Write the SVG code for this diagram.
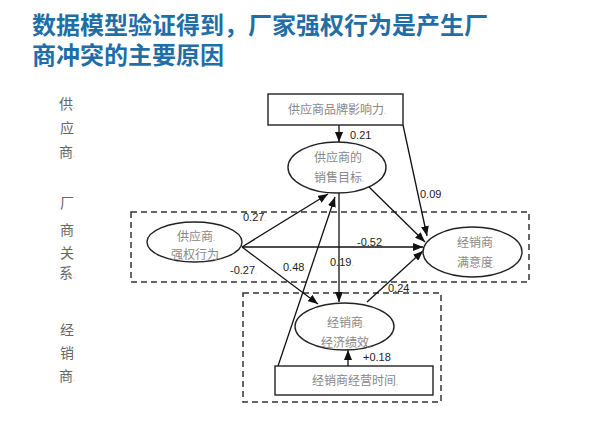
<svg xmlns="http://www.w3.org/2000/svg" width="600" height="429" viewBox="0 0 600 429">
<defs>
<marker id="arr" markerUnits="userSpaceOnUse" markerWidth="10" markerHeight="8" refX="10" refY="4" orient="auto">
<path d="M0,0 L10,4 L0,8 z" fill="#111"/>
</marker>
<style>
.title{font-family:"Noto Sans CJK SC","Noto Sans",sans-serif;font-size:24px;font-weight:bold;fill:#1f6ea8}
.side{font-family:"Noto Sans CJK SC",sans-serif;font-size:14px;fill:#666;text-anchor:middle}
.nt{font-family:"Noto Sans CJK SC",sans-serif;font-size:12px;fill:#888;text-anchor:middle}
.num{font-family:"Liberation Sans",Arial,sans-serif;font-size:11px;fill:#222}
.pm{font-size:7px;fill:#aaa}
.shape{fill:#fff;stroke:#222;stroke-width:1.4}
.dash{fill:none;stroke:#333;stroke-width:1.5;stroke-dasharray:6,4}
.ln{stroke:#111;stroke-width:1.3;fill:none;marker-end:url(#arr)}
</style>
</defs>
<rect width="600" height="429" fill="#fff"/>
<g id="title">
<text class="title"><tspan x="32" y="34">数据模型验证得到，厂家强权行为是产生厂</tspan><tspan x="32" y="64">商冲突的主要原因</tspan></text>
</g>
<g id="side-labels">
<text class="side" x="67" y="109">供<tspan class="pm">.</tspan></text>
<text class="side" x="67" y="133">应</text>
<text class="side" x="67" y="157">商<tspan class="pm">.</tspan></text>
<text class="side" x="67" y="208">厂</text>
<text class="side" x="67" y="235">商</text>
<text class="side" x="67" y="258">关</text>
<text class="side" x="67" y="278">系<tspan class="pm">.</tspan></text>
<text class="side" x="67" y="335">经</text>
<text class="side" x="67" y="358">销</text>
<text class="side" x="67" y="381">商<tspan class="pm">.</tspan></text>
</g>
<g id="groups">
<rect class="dash" x="131" y="212" width="398" height="70"/>
<rect class="dash" x="243" y="293" width="198" height="109"/>
</g>
<g id="connectors">
<line class="ln" x1="339" y1="125" x2="339" y2="142"/>
<line class="ln" x1="403" y1="125" x2="427" y2="236"/>
<line class="ln" x1="242" y1="247" x2="328" y2="194"/>
<line class="ln" x1="242" y1="247" x2="423" y2="247"/>
<line class="ln" x1="242" y1="247" x2="318" y2="304"/>
<line class="ln" x1="278" y1="366" x2="335" y2="197"/>
<line class="ln" x1="339" y1="193" x2="339" y2="302"/>
<line class="ln" x1="368" y1="186" x2="425" y2="242"/>
<line class="ln" x1="367" y1="302" x2="423" y2="251"/>
<line class="ln" x1="348" y1="366" x2="348" y2="350"/>
</g>
<g id="brand">
<rect class="shape" x="268" y="94" width="135" height="31"/>
<text class="nt" x="337" y="114">供应商品牌影响力<tspan class="pm">.</tspan></text>
</g>
<g id="sales-target">
<ellipse class="shape" cx="337" cy="167.5" rx="49" ry="25.5"/>
<text class="nt" x="339" y="162">供应商的<tspan class="pm">.</tspan></text>
<text class="nt" x="339" y="182">销售目标<tspan class="pm">.</tspan></text>
</g>
<g id="coercive-power">
<ellipse class="shape" cx="194.5" cy="242" rx="47.5" ry="20"/>
<text class="nt" x="196" y="241">供应商<tspan class="pm">.</tspan></text>
<text class="nt" x="196" y="259">强权行为<tspan class="pm">.</tspan></text>
</g>
<g id="satisfaction">
<ellipse class="shape" cx="472.5" cy="252" rx="49.5" ry="25"/>
<text class="nt" x="476" y="247">经销商<tspan class="pm">.</tspan></text>
<text class="nt" x="476" y="267">满意度<tspan class="pm">.</tspan></text>
</g>
<g id="performance">
<ellipse class="shape" cx="344.5" cy="326.5" rx="49.5" ry="23.5"/>
<text class="nt" x="346" y="327">经销商<tspan class="pm">.</tspan></text>
<text class="nt" x="346" y="347">经济绩效<tspan class="pm">.</tspan></text>
</g>
<g id="tenure">
<rect class="shape" x="275" y="366" width="158" height="29"/>
<text class="nt" x="355" y="385">经销商经营时间<tspan class="pm">.</tspan></text>
</g>
<g id="coefficients">
<text class="num" x="350" y="139">0.21</text>
<text class="num" x="420" y="198">0.09<tspan class="pm">.</tspan></text>
<text class="num" x="243" y="221">0.27<tspan class="pm">.</tspan></text>
<text class="num" x="357" y="246">-0.52<tspan class="pm">.</tspan></text>
<text class="num" x="230" y="274">-0.27<tspan class="pm">.</tspan></text>
<text class="num" x="283" y="271">0.48<tspan class="pm">.</tspan></text>
<text class="num" x="330" y="266">0.19<tspan class="pm">.</tspan></text>
<text class="num" x="388" y="292">0.24<tspan class="pm">.</tspan></text>
<text class="num" x="363" y="361">+0.18</text>
</g>
</svg>
